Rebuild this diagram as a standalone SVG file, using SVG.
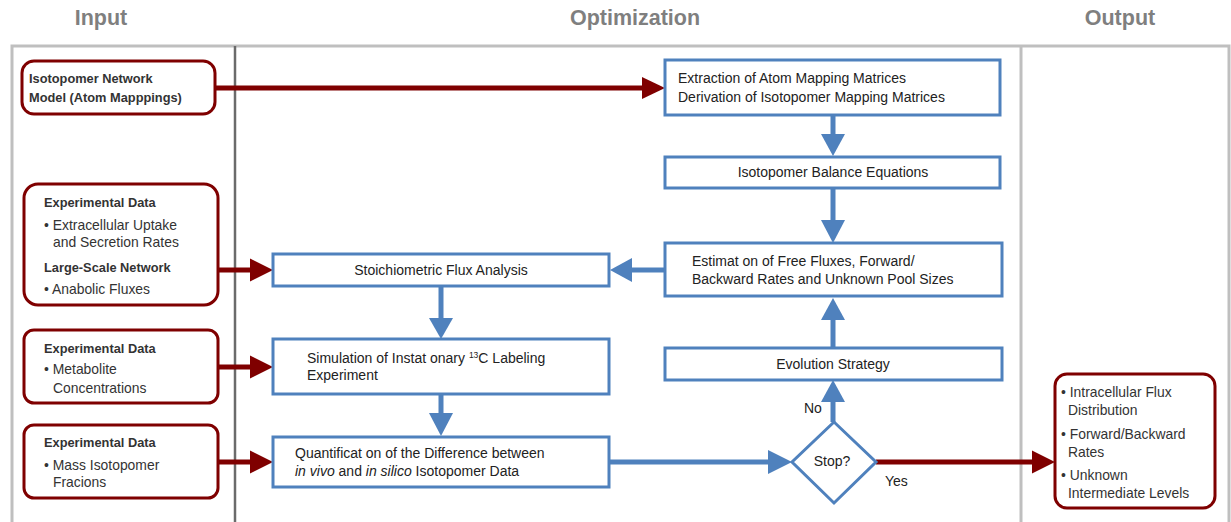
<svg xmlns="http://www.w3.org/2000/svg" width="1231" height="522" viewBox="0 0 1231 522">
<style>
.hd{font-family:"Liberation Sans",Arial,sans-serif;font-weight:bold;font-size:21.5px;fill:#7f7f7f}
.t{font-family:"Liberation Sans",Arial,sans-serif;font-size:14px;fill:#222}
.b{font-family:"Liberation Sans",Arial,sans-serif;font-size:12.8px;font-weight:bold;fill:#333}
.s{font-family:"Liberation Sans",Arial,sans-serif;font-size:13.9px;fill:#333}
.rb{fill:#fff;stroke:#7f0000;stroke-width:3}
.bb{fill:#fff;stroke:#4f81bd;stroke-width:3}
.rl{stroke:#7f0000;stroke-width:5;fill:none}
.bl{stroke:#4f81bd;stroke-width:5;fill:none}
.rh{fill:#7f0000}
.bh{fill:#4f81bd}
</style>
<rect width="1231" height="522" fill="#fff"/>
<g id="frame">
<text class="hd" x="101" y="25" text-anchor="middle">Input</text>
<text class="hd" x="635" y="25" text-anchor="middle">Optimization</text>
<text class="hd" x="1120" y="25" text-anchor="middle">Output</text>
<path d="M12,524 V46 H1229 V524" fill="none" stroke="#bfbfbf" stroke-width="3"/>
<line x1="1021" y1="46" x2="1021" y2="524" stroke="#bfbfbf" stroke-width="3"/>
<line x1="235" y1="46" x2="235" y2="524" stroke="#6b6b6b" stroke-width="2.5"/>
</g>
<g id="connectors">
<line class="rl" x1="216" y1="88" x2="644" y2="88"/><polygon class="rh" points="642,77 665,88 642,99"/>
<line class="rl" x1="218" y1="270" x2="252" y2="270"/><polygon class="rh" points="250,258.5 273,270 250,281.5"/>
<line class="rl" x1="218" y1="367" x2="252" y2="367"/><polygon class="rh" points="250,355.5 273,367 250,378.5"/>
<line class="rl" x1="218" y1="462" x2="252" y2="462"/><polygon class="rh" points="250,450.5 273,462 250,473.5"/>
<line class="rl" x1="876" y1="462" x2="1034" y2="462"/><polygon class="rh" points="1032,450.5 1055,462 1032,473.5"/>
<line class="bl" x1="833" y1="116" x2="833" y2="136"/><polygon class="bh" points="821,134 845,134 833,156"/>
<line class="bl" x1="833" y1="189" x2="833" y2="222"/><polygon class="bh" points="821,220 845,220 833,243"/>
<line class="bl" x1="664" y1="270" x2="630" y2="270"/><polygon class="bh" points="632,258 632,282 610,270"/>
<line class="bl" x1="441" y1="287" x2="441" y2="320"/><polygon class="bh" points="429,318 453,318 441,339"/>
<line class="bl" x1="441" y1="395" x2="441" y2="415"/><polygon class="bh" points="429,413 453,413 441,436"/>
<line class="bl" x1="609" y1="462" x2="770" y2="462"/><polygon class="bh" points="768,450 768,474 792,462"/>
<line class="bl" x1="833" y1="422" x2="833" y2="400"/><polygon class="bh" points="821,402 845,402 833,380"/>
<line class="bl" x1="833" y1="347" x2="833" y2="318"/><polygon class="bh" points="821,320 845,320 833,298"/>
<text class="t" x="804" y="413">No</text>
<text class="t" x="885" y="486">Yes</text>
</g>
<g id="in1">
<rect class="rb" x="22" y="61" width="193" height="53" rx="12"/>
<text class="b" x="29" y="83">Isotopomer Network</text>
<text class="b" x="29" y="102">Model (Atom Mapppings)</text>
</g>
<g id="in2">
<rect class="rb" x="24" y="184" width="194" height="121" rx="14"/>
<text class="b" x="44" y="207">Experimental Data</text>
<text class="s" x="44" y="230">• Extracellular Uptake</text>
<text class="s" x="53" y="247">and Secretion Rates</text>
<text class="b" x="44" y="272">Large-Scale Network</text>
<text class="s" x="44" y="294">• Anabolic Fluxes</text>
</g>
<g id="in3">
<rect class="rb" x="24" y="330" width="194" height="73" rx="10"/>
<text class="b" x="44" y="353">Experimental Data</text>
<text class="s" x="44" y="374">• Metabolite</text>
<text class="s" x="53" y="393">Concentrations</text>
</g>
<g id="in4">
<rect class="rb" x="24" y="425" width="194" height="73" rx="10"/>
<text class="b" x="44" y="447">Experimental Data</text>
<text class="s" x="44" y="470">• Mass Isotopomer</text>
<text class="s" x="53" y="487">Fracions</text>
</g>
<g id="extraction">
<rect class="bb" x="665" y="60" width="335" height="55"/>
<text class="t" x="678" y="83">Extraction of Atom Mapping Matrices</text>
<text class="t" x="678" y="102">Derivation of Isotopomer Mapping Matrices</text>
</g>
<g id="balance">
<rect class="bb" x="665" y="157" width="335" height="31"/>
<text class="t" x="833" y="177" text-anchor="middle">Isotopomer Balance Equations</text>
</g>
<g id="estimation">
<rect class="bb" x="665" y="243" width="337" height="53"/>
<text class="t" x="692" y="266">Estimat on of Free Fluxes, Forward/</text>
<text class="t" x="692" y="284">Backward Rates and Unknown Pool Sizes</text>
</g>
<g id="evolution">
<rect class="bb" x="665" y="348" width="337" height="32"/>
<text class="t" x="833" y="369" text-anchor="middle">Evolution Strategy</text>
</g>
<g id="stoich">
<rect class="bb" x="273" y="254" width="336" height="32"/>
<text class="t" x="441" y="275" text-anchor="middle">Stoichiometric Flux Analysis</text>
</g>
<g id="simulation">
<rect class="bb" x="273" y="339" width="336" height="55"/>
<text class="t" x="307" y="363">Simulation of Instat onary <tspan font-size="8.5" dy="-5">13</tspan><tspan dy="5">C Labeling</tspan></text>
<text class="t" x="307" y="380">Experiment</text>
</g>
<g id="quantification">
<rect class="bb" x="273" y="437" width="336" height="50"/>
<text class="t" x="295" y="458">Quantificat on of the Difference between</text>
<text class="t" x="295" y="476"><tspan font-style="italic">in vivo</tspan> and <tspan font-style="italic">in silico</tspan> Isotopomer Data</text>
</g>
<g id="stop">
<polygon class="bb" points="834,422 876,462 834,503 792,462"/>
<text class="t" x="832" y="466" text-anchor="middle">Stop?</text>
</g>
<g id="output">
<rect class="rb" x="1055" y="374" width="160" height="134" rx="12"/>
<text class="s" x="1061" y="397">• Intracellular Flux</text>
<text class="s" x="1068" y="415">Distribution</text>
<text class="s" x="1061" y="439">• Forward/Backward</text>
<text class="s" x="1068" y="457">Rates</text>
<text class="s" x="1061" y="480">• Unknown</text>
<text class="s" x="1068" y="498">Intermediate Levels</text>
</g>
</svg>
